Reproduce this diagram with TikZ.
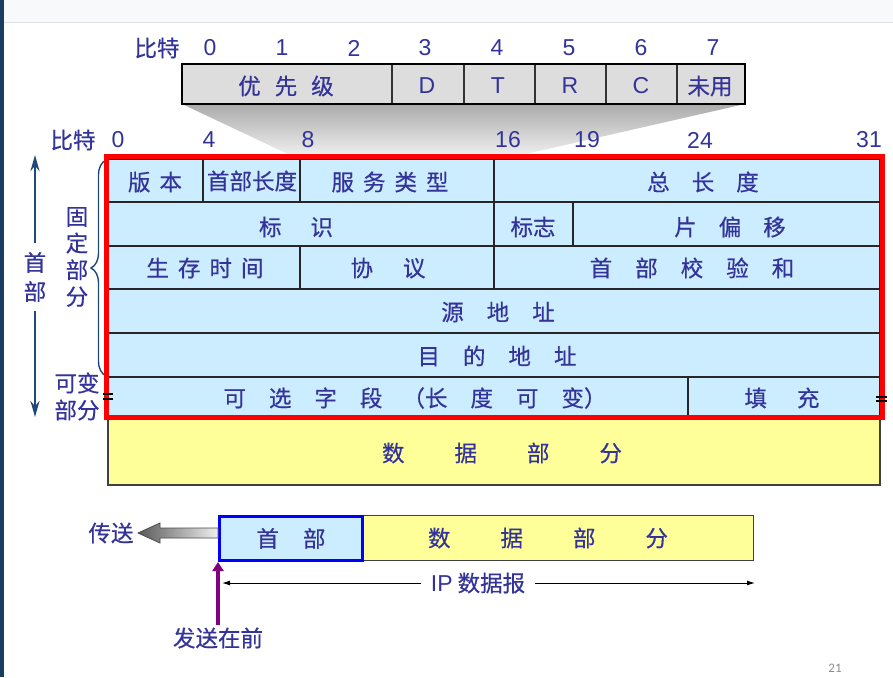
\documentclass[tikz,border=0pt]{standalone}
\usepackage{fontspec}
\setmainfont{Liberation Sans}
\newfontfamily\cjk{Noto Sans CJK SC}[FakeBold=0.5]
\newfontfamily\pnumfont{Carlito}
\usetikzlibrary{arrows.meta,decorations.pathreplacing}
\definecolor{tblue}{RGB}{51,51,153}
\definecolor{cellblue}{RGB}{204,236,255}
\definecolor{datayel}{RGB}{255,255,153}
\definecolor{topgray}{RGB}{221,221,221}
\definecolor{navy}{RGB}{31,73,125}
\definecolor{sidebar}{RGB}{24,62,98}
\definecolor{band}{RGB}{248,249,251}
\definecolor{bandline}{RGB}{221,224,229}
\definecolor{purp}{RGB}{128,0,128}
\definecolor{pgray}{RGB}{140,140,140}
\newcommand\spc[1]{\hspace*{#1pt}}
\begin{document}
\begin{tikzpicture}[x=1pt,y=-1pt,
  zh/.style={font=\cjk\fontsize{22.5}{29}\selectfont, text=tblue, inner sep=0pt, align=center},
  lat/.style={font=\fontsize{23}{27}\selectfont, text=tblue, inner sep=0pt},
  cell/.style={fill=cellblue, draw=black!85, line width=1.1pt},
  tcell/.style={fill=topgray, draw=black!80, line width=1.3pt},
  dbox/.style={fill=datayel, draw=black!75, line width=1.3pt},
]
\useasboundingbox (0,0) rectangle (893,677);
\fill[white] (0,0) rectangle (893,677);
\fill[band] (0,0) rectangle (893,23);
\draw[bandline, line width=1pt] (0,23) -- (893,23);
\fill[sidebar] (0,0) rectangle (4,677);

% zoom trapezoid
\shade[top color=black!33, bottom color=black!6] (182,104) -- (745,104) -- (517,156) -- (292,156) -- cycle;

% top bit field
\draw[tcell] (182,64) rectangle (392,104);
\draw[tcell] (392,64) rectangle (464,104);
\draw[tcell] (464,64) rectangle (535,104);
\draw[tcell] (535,64) rectangle (606,104);
\draw[tcell] (606,64) rectangle (677,104);
\draw[tcell] (677,64) rectangle (745,104);
\draw[black, line width=2pt] (182,64) rectangle (745,104);
\node[zh] (yxj) at (286,86) {优\spc{14}先\spc{14}级};
\node[lat] (fd) at (427,86) {D};
\node[lat] (ft) at (498,86) {T};
\node[lat] (fr) at (570,86) {R};
\node[lat] (fc) at (641,86) {C};
\node[zh] (wy) at (710,86) {未用};

% top bit labels
\node[zh] (bt1) at (157,48) {比特};
\node[lat] (b0) at (210,48) {0};
\node[lat] (b1) at (282,48) {1};
\node[lat] (b2) at (354,48) {2};
\node[lat] (b3) at (425,48) {3};
\node[lat] (b4) at (497,48) {4};
\node[lat] (b5) at (569,48) {5};
\node[lat] (b6) at (641,48) {6};
\node[lat] (b7) at (713,48) {7};

% main bit labels
\node[zh] (bt2) at (73,140) {比特};
\node[lat] (m0) at (118,140) {0};
\node[lat] (m4) at (209,140) {4};
\node[lat] (m8) at (308,140) {8};
\node[lat] (m16) at (508,140) {16};
\node[lat] (m19) at (587,140) {19};
\node[lat] (m24) at (700,140) {24};
\node[lat] (m31) at (869,140) {31};

% header table
\draw[cell] (108,159) rectangle (203,202);
\draw[cell] (203,159) rectangle (300,202);
\draw[cell] (300,159) rectangle (494,202);
\draw[cell] (494,159) rectangle (880,202);
\draw[cell] (108,202) rectangle (494,246);
\draw[cell] (494,202) rectangle (573,246);
\draw[cell] (573,202) rectangle (880,246);
\draw[cell] (108,246) rectangle (300,289);
\draw[cell] (300,246) rectangle (494,289);
\draw[cell] (494,246) rectangle (880,289);
\draw[cell] (108,289) rectangle (880,333);
\draw[cell] (108,333) rectangle (880,377);
\draw[cell] (108,377) rectangle (688,417);
\draw[cell] (688,377) rectangle (880,417);
% data part
\draw[dbox] (108,417) rectangle (880,485);

\node[zh] (ver) at (155,182) {版\spc{9}本};
\node[zh] (hl) at (252,181) {首部长度};
\node[zh] (tos) at (390,182) {服\spc{9}务\spc{9}类\spc{9}型};
\node[zh] (tl) at (703,182) {总\spc{22}长\spc{22}度};
\node[zh] (idf) at (296,227) {标\spc{29}识};
\node[zh] (flg) at (533,227) {标志};
\node[zh] (fo) at (730,227) {片\spc{22}偏\spc{22}移};
\node[zh] (ttl) at (205,268) {生\spc{9}存\spc{9}时\spc{9}间};
\node[zh] (pro) at (388,268) {协\spc{30}议};
\node[zh] (cks) at (692,268) {首\spc{23}部\spc{23}校\spc{23}验\spc{23}和};
\node[zh] (src) at (498,312) {源\spc{23}地\spc{23}址};
\node[zh] (dst) at (497,356) {目\spc{23}的\spc{23}地\spc{23}址};
\node[zh] (opt) at (415,398) {可\spc{23}选\spc{23}字\spc{23}段\spc{20}（长\spc{23}度\spc{23}可\spc{23}变）};
\node[zh] (pad) at (782,398) {填\spc{30}充};
\node[zh] (dat) at (502,453) {数\spc{50}据\spc{50}部\spc{50}分};

% left annotations
\draw[navy, line width=1.4pt, decorate, decoration={brace, amplitude=15pt}] (106,376) -- (106,160);
\node[zh] (shou) at (35,277) {首\\部};
\coordinate (atop) at (35,155);
\coordinate (abot) at (35,417);
\draw[navy, line width=2.5pt, shorten <=9pt, -{Stealth[length=16pt,width=9pt]}] (shou.north) -- (atop);
\draw[navy, line width=2.5pt, shorten <=9pt, -{Stealth[length=16pt,width=9pt]}] (shou.south) -- (abot);
\node[zh, font=\cjk\fontsize{22.5}{26.7}\selectfont] (gdbf) at (77,257) {固\\定\\部\\分};
\node[zh, font=\cjk\fontsize{22.5}{27}\selectfont] (kbbf) at (77,396.5) {可变\\部分};

% red frame
\draw[red, line width=5pt] (106,156) rectangle (882,417);

% break marks
\draw[black, line width=1.4pt] (103,394) -- (113,394) (103,399) -- (113,399);
\draw[black, line width=1.4pt] (876,397) -- (887,397) (876,401) -- (887,401);

% bottom datagram
\node[dbox, minimum width=392pt, minimum height=45pt, anchor=north west, inner sep=0pt] (dbx) at (361,515) {};
\node[zh] (dtxt) at (548,538) {数\spc{50}据\spc{50}部\spc{50}分};
\node[draw={rgb,255:red,0;green,0;blue,255}, line width=3pt, fill=cellblue, minimum width=143pt, minimum height=44pt, anchor=north west, inner sep=0pt, zh] (hdr) at (218,515) {首\spc{24}部};

% transmit arrow
\shadedraw[left color=black!65, right color=black!6, draw=black!70, line width=0.8pt]
  (218,528) -- (160,528) -- (160,523) -- (138,533) -- (160,543) -- (160,538) -- (218,538) -- cycle;
\node[zh] (cs) at (111,533) {传送};

% IP datagram length arrow
\node[zh, inner xsep=10pt] (ipd) at (478,583) {{\fontsize{23}{27}\fontspec{Liberation Sans}IP} 数据报};
\coordinate (ipl) at (222,583);
\coordinate (ipr) at (755,583);
\draw[black, line width=1pt, -{Latex[length=8pt,width=5pt]}] (ipd.west) -- (ipl);
\draw[black, line width=1pt, -{Latex[length=8pt,width=5pt]}] (ipd.east) -- (ipr);

% send-first arrow
\node[zh] (fszq) at (218,638) {发送在前};
\draw[purp, line width=3.5pt, shorten <=2pt, -{Triangle[length=9pt,width=11pt]}] (fszq.north) -- (fszq.north |- hdr.south);

% page number
\node[font=\pnumfont\fontsize{13}{15}\selectfont, text=pgray, inner sep=0pt] (pn) at (835,668) {21};
\end{tikzpicture}
\end{document}
